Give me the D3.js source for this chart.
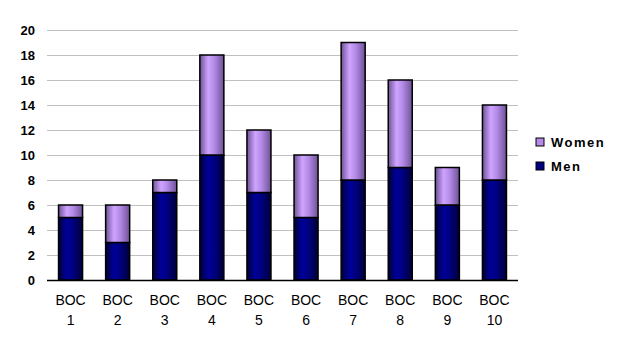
<!DOCTYPE html>
<html>
<head>
<meta charset="utf-8">
<script src="https://cdn.jsdelivr.net/npm/d3@7"></script>
<style>
  body { margin: 0; background: #fff; }
  svg { font-family: "Liberation Sans", Arial, sans-serif; }
</style>
</head>
<body>
<div id="chart"></div>
<script>
// chart data
const categories = ['BOC 1', 'BOC 2', 'BOC 3', 'BOC 4', 'BOC 5', 'BOC 6', 'BOC 7', 'BOC 8', 'BOC 9', 'BOC 10'];
const men = [5, 3, 7, 10, 7, 5, 8, 9, 6, 8];
const women = [1, 3, 1, 8, 5, 5, 11, 7, 3, 6];
const yTicks = [0, 2, 4, 6, 8, 10, 12, 14, 16, 18, 20];
const seriesNames = ['Men', 'Women'];

const width = 622, height = 350;
const margin = { top: 30, right: 104, bottom: 70, left: 47 };
const innerW = width - margin.left - margin.right;
const innerH = height - margin.top - margin.bottom;

const svg = d3.select('#chart')
    .append('svg')
    .attr('width', width)
    .attr('height', height);

// gradients to mimic the cylinder shading
const defs = svg.append('defs');
function addGradient(id, dark, mid, light) {
    const g = defs.append('linearGradient').attr('id', id)
        .attr('x1', '0%').attr('x2', '100%').attr('y1', '0%').attr('y2', '0%');
    g.append('stop').attr('offset', '0%').attr('stop-color', dark);
    g.append('stop').attr('offset', '35%').attr('stop-color', light);
    g.append('stop').attr('offset', '60%').attr('stop-color', mid);
    g.append('stop').attr('offset', '100%').attr('stop-color', dark);
}
addGradient('gradMen', '#000038', '#000080', '#00009a');
addGradient('gradWomen', '#6e5296', '#b48ae8', '#cfa4ff');

const colors = { Men: 'url(#gradMen)', Women: 'url(#gradWomen)' };
const legendColors = { Men: '#000080', Women: '#b48ae8' };

const g = svg.append('g')
    .attr('transform', `translate(${margin.left},${margin.top})`);

const x = d3.scaleBand()
    .domain(categories)
    .range([0, innerW])
    .paddingInner(0.49)
    .paddingOuter(0.245);

const y = d3.scaleLinear()
    .domain([0, 20])
    .range([innerH, 0]);

// gridlines
g.append('g')
    .selectAll('line')
    .data(yTicks.filter(d => d > 0))
    .enter()
    .append('line')
    .attr('x1', 0)
    .attr('x2', innerW)
    .attr('y1', d => y(d) + 0.5)
    .attr('y2', d => y(d) + 0.5)
    .attr('stroke', '#c0c0c0')
    .attr('stroke-width', 1);

// y axis labels
const yAxis = d3.axisLeft(y).tickValues(yTicks).tickSize(0).tickPadding(12);
g.append('g')
    .call(yAxis)
    .call(s => s.select('.domain').remove())
    .selectAll('text')
    .style('font-family', '"Liberation Sans", Arial, sans-serif')
    .style('font-size', '13px')
    .style('font-weight', 'bold')
    .style('fill', '#000');

// stacked bars
const rows = categories.map((c, i) => ({ cat: c, Men: men[i], Women: women[i] }));
const stacked = d3.stack().keys(seriesNames)(rows);

g.selectAll('.series')
    .data(stacked)
    .enter()
    .append('g')
    .attr('class', 'series')
    .attr('fill', d => colors[d.key])
    .selectAll('rect')
    .data(d => d)
    .enter()
    .append('rect')
    .attr('x', d => x(d.data.cat))
    .attr('y', d => y(d[1]))
    .attr('width', x.bandwidth())
    .attr('height', d => y(d[0]) - y(d[1]))
    .attr('stroke', '#000')
    .attr('stroke-width', 1.5);

// baseline
g.append('line')
    .attr('x1', 0)
    .attr('x2', innerW)
    .attr('y1', innerH + 0.5)
    .attr('y2', innerH + 0.5)
    .attr('stroke', '#000')
    .attr('stroke-width', 1.5);

// category labels in two lines
const catLabels = g.append('g')
    .selectAll('text')
    .data(categories)
    .enter()
    .append('text')
    .attr('x', d => x(d) + x.bandwidth() / 2)
    .attr('y', innerH + 25)
    .attr('text-anchor', 'middle')
    .style('font-size', '14px')
    .style('fill', '#000');
catLabels.each(function(d) {
    const parts = d.split(' ');
    const t = d3.select(this);
    t.append('tspan').attr('x', t.attr('x')).attr('dy', 0).text(parts[0]);
    t.append('tspan').attr('x', t.attr('x')).attr('dy', 20).text(parts[1]);
});

// legend
const legend = svg.append('g')
    .attr('transform', 'translate(536,138)');
['Women', 'Men'].forEach((name, i) => {
    const row = legend.append('g').attr('transform', `translate(0,${i * 24})`);
    row.append('rect')
        .attr('width', 8).attr('height', 8)
        .attr('fill', legendColors[name])
        .attr('stroke', '#000').attr('stroke-width', 1);
    row.append('text')
        .attr('x', 15).attr('y', 9)
        .style('font-size', '13px')
        .style('font-weight', 'bold')
        .style('letter-spacing', '1.5px')
        .text(name);
});
</script>
</body>
</html>
